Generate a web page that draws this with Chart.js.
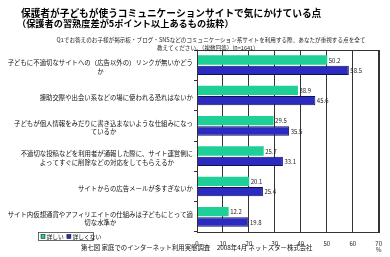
<!DOCTYPE html>
<html>
<head>
<meta charset="utf-8">
<script src="https://cdn.jsdelivr.net/npm/chart.js@4"></script>
<style>
  html, body { margin: 0; padding: 0; background: #fff; }
  #wrap { width: 390px; height: 257px; position: relative; }
</style>
</head>
<body>
<div id="wrap"><canvas id="c"></canvas></div>
<script>
// data
var categories = [
  ['子どもに不適切なサイトへの（広告以外の）リンクが無いかどう', 'か'],
  ['援助交際や出会い系などの場に使われる恐れはないか'],
  ['子どもが個人情報をみだりに書き込まないような仕組みになっ', 'ているか'],
  ['不適切な投稿などを利用者が通報した際に、サイト運営側に', 'よってすぐに削除などの対応をしてもらえるか'],
  ['サイトからの広告メールが多すぎないか'],
  ['サイト内仮想通貨やアフィリエイトの仕組みは子どもにとって適', '切な水準か']
];
var seriesNames = ['詳しい', '詳しくない'];
var kuwashii = [50.2, 38.9, 29.5, 25.7, 20.1, 12.2];
var kuwashikunai = [58.5, 45.6, 35.5, 33.1, 25.4, 19.8];
var xTicks = [0, 10, 20, 30, 40, 50, 60, 70];

var titleLines = ['保護者が子どもが使うコミュニケーションサイトで気にかけている点', '（保護者の習熟度差が5ポイント以上あるもの抜粋）'];
var questionLines = ['Q1でお答えのお子様が掲示板・ブログ・SNSなどのコミュニケーション系サイトを利用する際、あなたが重視する点を全て', '教えてください。（複数回答）(n=1641)'];
var footer = '第七図 家庭でのインターネット利用実態調査　2008年4月 ネットスター株式会社';

var JP = '"Noto Sans CJK JP", "Noto Sans", sans-serif';
var GREEN = '#1fcf98';
var BLUE = '#2b2bbf';

var extras = {
  id: 'extras',
  afterDraw: function (chart) {
    var ctx = chart.ctx, a = chart.chartArea;
    var y = chart.scales.y;
    ctx.save();
    // box round the plot
    ctx.strokeStyle = '#333';
    ctx.lineWidth = 1;
    ctx.strokeRect(Math.round(a.left) + 0.5, Math.round(a.top) + 0.5, Math.round(a.right - a.left), Math.round(a.bottom - a.top));

    // titles
    ctx.fillStyle = '#000';
    ctx.textBaseline = 'middle';
    ctx.textAlign = 'left';
    ctx.font = 'bold 9.7px ' + JP;
    ctx.fillText(titleLines[0], 21, 13);
    ctx.font = 'bold 9.2px ' + JP;
    ctx.fillText(titleLines[1], 17, 24);

    ctx.textAlign = 'center';
    ctx.font = '5.6px ' + JP;
    ctx.fillStyle = '#222';
    ctx.fillText(questionLines[0], 211, 40);
    ctx.fillText(questionLines[1], 206, 48);

    // category labels, right block with centred lines
    ctx.font = '6.4px ' + JP;
    ctx.fillStyle = '#111';
    categories.forEach(function (lines, i) {
      var cy = y.getPixelForValue(i);
      var w = 0;
      lines.forEach(function (l) { w = Math.max(w, ctx.measureText(l).width); });
      var cx = 193 - w / 2;
      var top = lines.length > 1 ? cy - 2.5 : cy + 2;
      lines.forEach(function (l, k) { ctx.fillText(l, cx, top + k * 8.5); });
    });

    // value labels
    ctx.textAlign = 'left';
    ctx.font = '6px ' + JP;
    ctx.fillStyle = '#222';
    chart.data.datasets.forEach(function (ds, di) {
      chart.getDatasetMeta(di).data.forEach(function (bar, i) {
        ctx.fillText(ds.data[i].toFixed(1), bar.x + 1.5, bar.y + 0.5);
      });
    });

    // % under the axis
    ctx.textAlign = 'center';
    ctx.fillText('%', chart.scales.x.getPixelForValue(70), 250);

    // legend
    ctx.strokeStyle = '#444';
    ctx.lineWidth = 0.8;
    ctx.strokeRect(38.5, 232.5, 55, 8);
    ctx.textAlign = 'left';
    ctx.font = '5.8px ' + JP;
    var lx = 41;
    [GREEN, BLUE].forEach(function (col, k) {
      ctx.fillStyle = col;
      ctx.fillRect(lx, 234.5, 4, 4);
      ctx.strokeStyle = '#000';
      ctx.lineWidth = 0.5;
      ctx.strokeRect(lx, 234.5, 4, 4);
      ctx.fillStyle = '#111';
      ctx.fillText(seriesNames[k], lx + 5.5, 236.8);
      lx += 5.5 + ctx.measureText(seriesNames[k]).width + 3;
    });

    // footer
    ctx.font = '6.4px ' + JP;
    ctx.fillStyle = '#111';
    ctx.fillText(footer, 81, 248);
    ctx.restore();
  }
};

new Chart(document.getElementById('c'), {
  type: 'bar',
  data: {
    labels: categories,
    datasets: [
      { label: seriesNames[0], data: kuwashii, backgroundColor: GREEN, borderWidth: 0,
        categoryPercentage: 0.68, barPercentage: 0.9 },
      { label: seriesNames[1], data: kuwashikunai, backgroundColor: BLUE, borderColor: '#10105a', borderWidth: 1,
        categoryPercentage: 0.68, barPercentage: 0.9 }
    ]
  },
  options: {
    indexAxis: 'y',
    responsive: true,
    maintainAspectRatio: false,
    animation: false,
    layout: { padding: { top: 50, right: 11, left: 0, bottom: 0 } },
    plugins: { legend: { display: false }, tooltip: { enabled: false } },
    scales: {
      x: {
        min: 0, max: 70,
        afterBuildTicks: function (s) { s.ticks = xTicks.map(function (v) { return { value: v }; }); },
        grid: { color: '#333', lineWidth: 1, drawTicks: false },
        border: { color: '#333' },
        ticks: { font: { size: 6, family: JP }, color: '#222', padding: 8, maxRotation: 0 },
        afterFit: function (s) { s.height = 25; }
      },
      y: {
        grid: { drawOnChartArea: false, drawTicks: true, tickLength: 3, color: '#333' },
        border: { color: '#333' },
        ticks: { display: false },
        afterFit: function (s) { s.width = 197; }
      }
    }
  },
  plugins: [extras]
});
</script>
</body>
</html>
